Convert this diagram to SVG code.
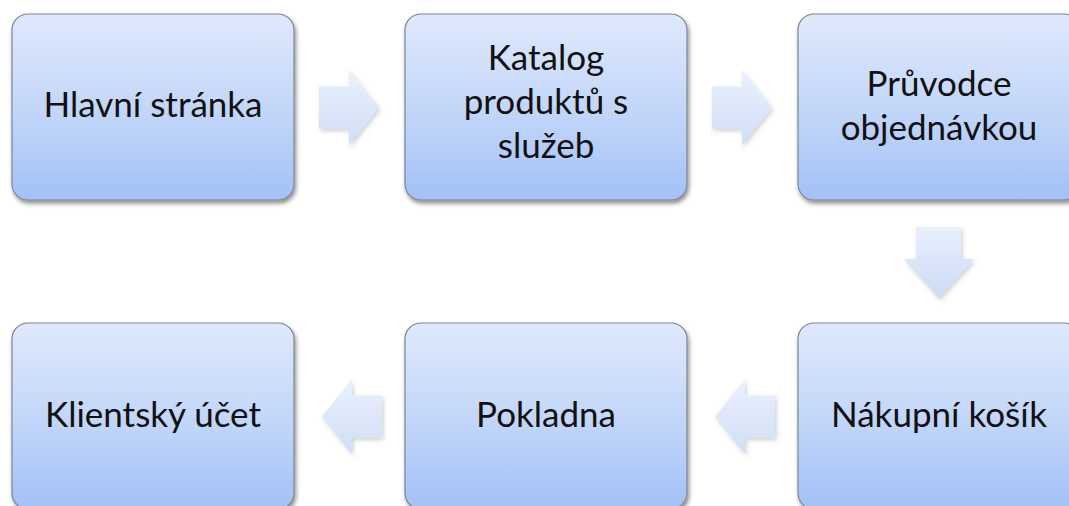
<svg xmlns="http://www.w3.org/2000/svg" width="1069" height="506" viewBox="0 0 1069 506">
  <defs>
    <linearGradient id="boxGrad" x1="0" y1="0" x2="0" y2="1">
      <stop offset="0" stop-color="#dfe9fc"/>
      <stop offset="0.5" stop-color="#c4d7f9"/>
      <stop offset="1" stop-color="#a3c1f6"/>
    </linearGradient>
    <linearGradient id="arrowGradH" x1="0" y1="0" x2="0" y2="1">
      <stop offset="0" stop-color="#ebf1fc"/>
      <stop offset="1" stop-color="#d0def7"/>
    </linearGradient>
    <linearGradient id="arrowGradV" x1="0" y1="0" x2="0" y2="1">
      <stop offset="0" stop-color="#e9effc"/>
      <stop offset="1" stop-color="#ccdbf6"/>
    </linearGradient>
    <filter id="boxShadow" x="-10%" y="-10%" width="120%" height="125%">
      <feDropShadow dx="1.5" dy="3" stdDeviation="2" flood-color="#000" flood-opacity="0.45"/>
    </filter>
    <filter id="arrowShadow" x="-20%" y="-20%" width="150%" height="150%">
      <feDropShadow dx="1.5" dy="2.5" stdDeviation="2" flood-color="#5a6478" flood-opacity="0.3"/>
    </filter>
  </defs>
  <style>
    .box { fill: url(#boxGrad); stroke: #7e8594; stroke-width: 1.2; filter: url(#boxShadow); }
    .arr { fill: url(#arrowGradH); filter: url(#arrowShadow); }
    .arrv { fill: url(#arrowGradV); filter: url(#arrowShadow); }
    .lbl { font-family: Lato, "Liberation Sans", Arial, sans-serif; font-size: 35px; fill: #111; text-anchor: middle; }
  </style>
  <rect width="1069" height="506" fill="#ffffff"/>

  <g id="connectors">
    <path class="arr" d="M319,86.5 H349 V70 L379,107.5 L349,145 V128.5 H319 Z"/>
    <path class="arr" d="M712,86.5 H742 V70 L772,107.5 L742,145 V128.5 H712 Z"/>
    <path class="arrv" d="M916,227 H961 V259 H974 L939,298 L904,259 H916 Z"/>
    <path class="arr" d="M775,395.5 H745 V379 L715,416.5 L745,454 V437.5 H775 Z"/>
    <path class="arr" d="M382,395.5 H352 V379 L322,416.5 L352,454 V437.5 H382 Z"/>
  </g>

  <g id="node-hlavni">
    <rect class="box" x="12" y="14" width="282" height="186" rx="16"/>
    <text class="lbl" x="153" y="117">Hlavní stránka</text>
  </g>
  <g id="node-katalog">
    <rect class="box" x="405" y="14" width="282" height="186" rx="16"/>
    <text class="lbl" x="546" y="70">Katalog</text>
    <text class="lbl" x="546" y="114">produktů s</text>
    <text class="lbl" x="546" y="158">služeb</text>
  </g>
  <g id="node-pruvodce">
    <rect class="box" x="798" y="14" width="282" height="186" rx="16"/>
    <text class="lbl" x="939" y="96">Průvodce</text>
    <text class="lbl" x="939" y="140">objednávkou</text>
  </g>
  <g id="node-kosik">
    <rect class="box" x="798" y="323" width="282" height="186" rx="16"/>
    <text class="lbl" x="939" y="427">Nákupní košík</text>
  </g>
  <g id="node-pokladna">
    <rect class="box" x="405" y="323" width="282" height="186" rx="16"/>
    <text class="lbl" x="546" y="427">Pokladna</text>
  </g>
  <g id="node-ucet">
    <rect class="box" x="12" y="323" width="282" height="186" rx="16"/>
    <text class="lbl" x="153" y="427">Klientský účet</text>
  </g>
</svg>
